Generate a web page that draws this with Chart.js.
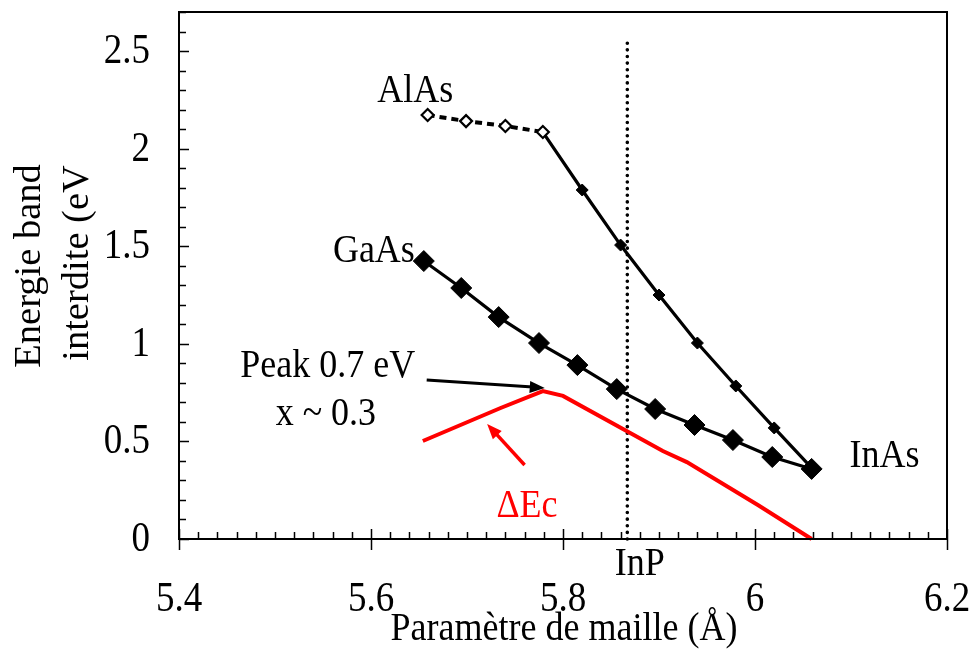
<!DOCTYPE html>
<html>
<head>
<meta charset="utf-8">
<script src="https://cdn.jsdelivr.net/npm/chart.js@4.4.1/dist/chart.umd.min.js"></script>
<style>
  html, body { margin: 0; padding: 0; background: #fff; }
</style>
</head>
<body>
<canvas id="chart" width="974" height="650"></canvas>
<script>
// Tick labels
const xTicks = [5.4, 5.6, 5.8, 6, 6.2];
const yTicks = [0, 0.5, 1, 1.5, 2, 2.5];

// GaAs -> InAs (large filled diamonds)
const gaasX = [5.655, 5.694, 5.733, 5.775, 5.815, 5.856, 5.896, 5.937, 5.977, 6.018, 6.059];
const gaasY = [1.424, 1.286, 1.137, 1.004, 0.891, 0.768, 0.666, 0.584, 0.507, 0.420, 0.359];

// AlAs -> InAs (first four points dashed / open markers)
const alasX = [5.659, 5.699, 5.740, 5.779, 5.820, 5.860, 5.900, 5.940, 5.980, 6.020, 6.059];
const alasY = [2.172, 2.141, 2.116, 2.085, 1.788, 1.506, 1.250, 1.004, 0.784, 0.569, 0.364];

// Conduction band offset (red)
const decX = [5.654, 5.735, 5.779, 5.800, 5.904, 5.929, 6.003, 6.059];
const decY = [0.502, 0.671, 0.758, 0.733, 0.451, 0.394, 0.174, 0.000];

// InP lattice parameter (dotted vertical)
const inpX = [5.867, 5.867];
const inpY = [0, 2.567];

const pts = (xs, ys) => xs.map((x, i) => ({ x, y: ys[i] }));

const SERIF = '"Liberation Serif", "Times New Roman", serif';

// text annotations, placed in data coordinates
const labels = [
  { text: 'AlAs', x: 5.646, y: 2.239, color: '#000' },
  { text: 'GaAs', x: 5.603, y: 1.419, color: '#000' },
  { text: 'InAs', x: 6.135, y: 0.369, color: '#000' },
  { text: 'Peak 0.7 eV', x: 5.555, y: 0.830, color: '#000' },
  { text: 'x ~ 0.3', x: 5.553, y: 0.584, color: '#000' },
  { text: '\u0394Ec', x: 5.7625, y: 0.113, color: '#ff0000' },
  { text: 'InP', x: 5.880, y: -0.184, color: '#000' },
];

// arrows [from, to] in data coordinates
const arrows = [
  { x0: 5.658, y0: 0.815, x1: 5.781, y1: 0.774, color: '#000', width: 3 },
  { x0: 5.760, y0: 0.379, x1: 5.721, y1: 0.589, color: '#ff0000', width: 3.5 },
];

// text slightly taller than wide, like the original figure
function tallText(ctx, text, px, py, size, align, base) {
  ctx.save();
  ctx.translate(px, py);
  ctx.scale(1, 1.12);
  ctx.font = size + 'px ' + SERIF;
  ctx.textAlign = align || 'center';
  ctx.textBaseline = base || 'alphabetic';
  ctx.fillText(text, 0, 0);
  ctx.restore();
}

const decor = {
  id: 'decor',
  afterDraw(chart) {
    const { ctx, chartArea: a, scales: { x, y } } = chart;
    ctx.save();

    // frame
    ctx.strokeStyle = '#000';
    ctx.lineWidth = 2;
    ctx.strokeRect(a.left, a.top, a.right - a.left, a.bottom - a.top);

    // ticks: minor inside, major crossing on x
    ctx.lineWidth = 1.5;
    ctx.beginPath();
    for (let i = 0; i <= 40; i++) {
      const px = Math.round(x.getPixelForValue(5.4 + i * 0.02)) + 0.5;
      const major = i % 10 === 0;
      ctx.moveTo(px, a.bottom - (major ? 10 : 7));
      ctx.lineTo(px, a.bottom + (major ? 11 : 0));
    }
    for (let i = 0; i <= 27; i++) {
      const py = Math.round(y.getPixelForValue(i * 0.1)) + 0.5;
      const major = i % 5 === 0;
      ctx.moveTo(a.left, py);
      ctx.lineTo(a.left + (major ? 10 : 7), py);
    }
    ctx.stroke();

    // tick labels
    ctx.fillStyle = '#000';
    x.ticks.forEach(t => tallText(ctx, String(t.value), x.getPixelForValue(t.value), a.bottom + 72, 37, 'center'));
    y.ticks.forEach(t => tallText(ctx, String(t.value), a.left - 29, y.getPixelForValue(t.value) + 12, 37, 'right'));

    // arrows
    arrows.forEach(ar => {
      const x0 = x.getPixelForValue(ar.x0), y0 = y.getPixelForValue(ar.y0);
      const x1 = x.getPixelForValue(ar.x1), y1 = y.getPixelForValue(ar.y1);
      const ang = Math.atan2(y1 - y0, x1 - x0);
      const hl = 15, hw = 6;
      ctx.strokeStyle = ar.color;
      ctx.fillStyle = ar.color;
      ctx.lineWidth = ar.width;
      ctx.beginPath();
      ctx.moveTo(x0, y0);
      ctx.lineTo(x1 - Math.cos(ang) * hl * 0.8, y1 - Math.sin(ang) * hl * 0.8);
      ctx.stroke();
      ctx.beginPath();
      ctx.moveTo(x1, y1);
      ctx.lineTo(x1 - Math.cos(ang) * hl - Math.sin(ang) * hw, y1 - Math.sin(ang) * hl + Math.cos(ang) * hw);
      ctx.lineTo(x1 - Math.cos(ang) * hl + Math.sin(ang) * hw, y1 - Math.sin(ang) * hl - Math.cos(ang) * hw);
      ctx.closePath();
      ctx.fill();
    });

    // annotations
    labels.forEach(l => {
      ctx.fillStyle = l.color;
      tallText(ctx, l.text, x.getPixelForValue(l.x), y.getPixelForValue(l.y), 36, 'center');
    });

    // axis titles
    ctx.fillStyle = '#000';
    tallText(ctx, 'Param\u00e8tre de maille (\u00c5)', 564, 640, 36, 'center');
    ctx.save();
    ctx.rotate(-Math.PI / 2);
    ctx.scale(1.04, 1);
    ctx.font = '37px ' + SERIF;
    ctx.textAlign = 'center';
    ctx.textBaseline = 'middle';
    ctx.fillText('Energie band', -266 / 1.04, 30);
    ctx.fillText('interdite (eV', -263 / 1.04, 78);
    ctx.restore();

    ctx.restore();
  }
};

const noPad = s => { s.paddingLeft = s.paddingRight = s.paddingTop = s.paddingBottom = 0; };

new Chart(document.getElementById('chart'), {
  type: 'scatter',
  data: {
    datasets: [
      {
        label: 'GaAs-InAs',
        data: pts(gaasX, gaasY),
        showLine: true,
        borderColor: '#000',
        borderWidth: 3.2,
        pointStyle: 'rectRot',
        pointRadius: 10.5,
        pointBackgroundColor: '#000',
        pointBorderColor: '#000',
        pointBorderWidth: 1,
      },
      {
        label: 'AlAs-InAs',
        data: pts(alasX, alasY),
        showLine: true,
        borderColor: '#000',
        borderWidth: 3.2,
        segment: {
          borderDash: c => (c.p1DataIndex <= 3 ? [7, 5] : undefined),
          borderWidth: c => (c.p1DataIndex <= 3 ? 4 : 3.2),
        },
        pointStyle: 'rectRot',
        pointRadius: alasX.map((_, i) => (i === alasX.length - 1 ? 0 : 6)),
        pointBackgroundColor: alasX.map((_, i) => (i <= 3 ? '#fff' : '#000')),
        pointBorderColor: '#000',
        pointBorderWidth: alasX.map((_, i) => (i <= 3 ? 2.2 : 1)),
      },
      {
        label: 'dEc',
        data: pts(decX, decY),
        showLine: true,
        borderColor: '#ff0000',
        borderWidth: 4,
        pointRadius: 0,
      },
      {
        label: 'InP',
        data: pts(inpX, inpY),
        showLine: true,
        borderColor: '#000',
        borderWidth: 3.6,
        borderDash: [0.01, 6.6],
        borderCapStyle: 'round',
        pointRadius: 0,
      },
    ],
  },
  options: {
    responsive: false,
    animation: false,
    clip: false,
    layout: { padding: { left: 0, top: 12, right: 27, bottom: 0 } },
    plugins: { legend: { display: false }, tooltip: { enabled: false } },
    scales: {
      x: {
        type: 'linear',
        min: 5.4,
        max: 6.2,
        grid: { display: false, drawTicks: false },
        border: { display: false },
        afterBuildTicks: s => { s.ticks = xTicks.map(v => ({ value: v })); },
        afterFit: s => { s.height = 111; noPad(s); },
        ticks: { display: false },
      },
      y: {
        type: 'linear',
        min: 0,
        max: 2.7,
        grid: { display: false, drawTicks: false },
        border: { display: false },
        afterBuildTicks: s => { s.ticks = yTicks.map(v => ({ value: v })); },
        afterFit: s => { s.width = 179; noPad(s); },
        ticks: { display: false },
      },
    },
  },
  plugins: [decor],
});
</script>
</body>
</html>
